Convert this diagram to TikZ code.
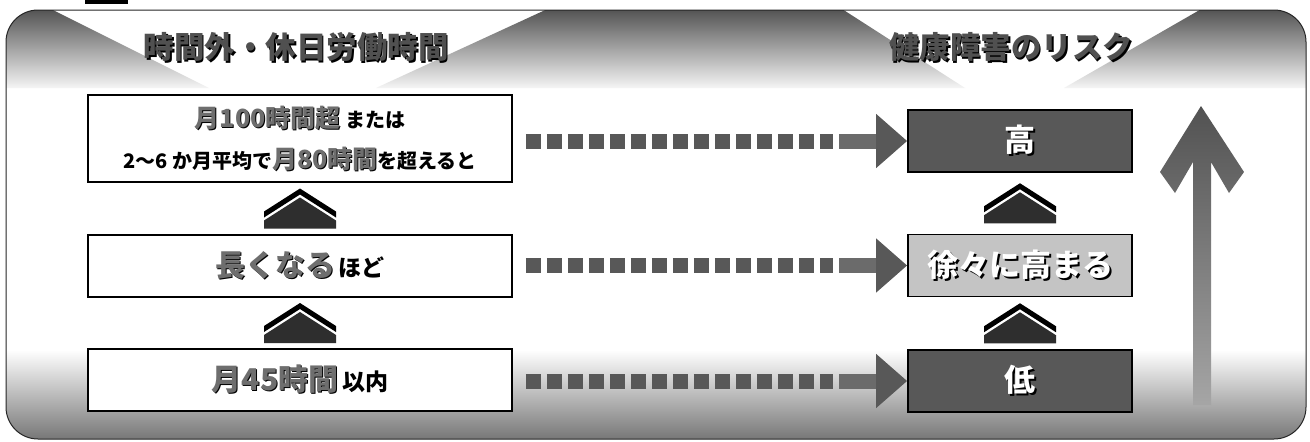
\documentclass[tikz,border=0pt]{standalone}
\usepackage{fontspec}
\newfontfamily\jp{Noto Sans CJK JP}
\usetikzlibrary{arrows.meta,calc}
\definecolor{dk}{HTML}{585858}
\definecolor{lt}{HTML}{C4C4C4}
\definecolor{stg}{HTML}{6E6E6E}
\definecolor{tg}{HTML}{505050}
\newcommand\shtext[3]{\makebox[0pt][l]{\kern#1\raisebox{-#1}{\color{black}#3}}{\color{#2}#3}}
\begin{document}
\begin{tikzpicture}[x=1pt,y=-1pt,
  lbox/.style={draw=black, line width=1.6pt, fill=white, minimum width=424pt, inner sep=0pt,
    font=\jp\bfseries\fontsize{20}{41}\selectfont, align=center},
  rbox/.style={draw=black, line width=1.6pt, minimum width=224pt, minimum height=62pt, inner sep=0pt,
    font=\jp\bfseries\fontsize{31}{31}\selectfont},
  ttl/.style={font=\jp\bfseries\fontsize{30.5}{30.5}\selectfont, inner sep=0pt},
  sq/.style={draw=dk, line width=15pt, dash pattern=on 15pt off 6pt},
  bar/.style={draw=black!58, line width=15pt, -{Triangle[length=31pt,width=52pt,color=dk]}},
  chev/.pic={
    \fill[black] (-36,23) -- (0,0) -- (36,23) -- (36,29) -- (0,6) -- (-36,29) -- cycle;
    \fill[black!82] (-36,40) -- (-36,32) -- (0,9) -- (36,32) -- (36,40) -- cycle;
  }]
\useasboundingbox (0,0) rectangle (1310,442);
% background band
\begin{scope}
  \clip[rounded corners=32pt] (6,10) rectangle (1306,439);
  \fill[white] (0,0) rectangle (1310,442);
  \shade[top color=black!75, bottom color=black!4] (0,0) -- (33,0) -- (209,88) -- (0,88) -- cycle;
  \shade[top color=black!75, bottom color=black!4] (376,88) -- (567,0) -- (828,0) -- (965,88) -- cycle;
  \shade[top color=black!75, bottom color=black!4] (1064,88) -- (1217,0) -- (1310,0) -- (1310,88) -- cycle;
  \shade[top color=white, bottom color=black!55] (0,350) rectangle (1310,442);
\end{scope}
\draw[black!85, line width=1pt, rounded corners=32pt] (6,10) rectangle (1306,439);
\fill[black] (85,0) rectangle (128,4);
% titles
\node[ttl] (t1) at (296,48) {\shtext{1.6pt}{tg}{時間外・休日労働時間}};
\node[ttl] (t2) at (1011,48) {\shtext{1.6pt}{tg}{健康障害のリスク}};
% left boxes
\node[lbox, minimum height=87pt] (b1) at (300,138.5)
  {{\fontsize{25}{25}\selectfont\shtext{1pt}{stg}{月100時間超}} または\\
   2〜6 か月平均で{\fontsize{25}{25}\selectfont\shtext{1pt}{stg}{月80時間}}を超えると};
\node[lbox, minimum height=62pt] (b2) at (300,266)
  {{\fontsize{30}{30}\selectfont\shtext{1pt}{stg}{長くなる}}\kern3pt{\fontsize{23}{23}\selectfont ほど}};
\node[lbox, minimum height=62pt] (b3) at (300,380)
  {{\fontsize{30}{30}\selectfont\shtext{1pt}{stg}{月45時間}}\kern4pt{\fontsize{23}{23}\selectfont 以内}};
% right boxes
\node[rbox, fill=dk] (r1) at (1020,141) {\shtext{2pt}{white}{高}};
\node[rbox, fill=lt] (r2) at (1020,265.5) {\shtext{2pt}{white}{徐々に高まる}};
\node[rbox, fill=dk] (r3) at (1020,381) {\shtext{2pt}{white}{低}};
% chevrons
\path (b1.south) -- (b2.north) coordinate[pos=0.5] (mb1);
\path (b2.south) -- (b3.north) coordinate[pos=0.5] (mb2);
\path (r1.south) -- (r2.north) coordinate[pos=0.5] (mr1);
\path (r2.south) -- (r3.north) coordinate[pos=0.5] (mr2);
\pic at ($(mb1)+(0,-20)$) {chev};
\pic at ($(mb2)+(0,-20)$) {chev};
\pic at ($(mr1)+(0,-20)$) {chev};
\pic at ($(mr2)+(0,-20)$) {chev};
% dashed arrows
\foreach \b/\r in {b1/r1, b2/r2, b3/r3}{
  \draw[sq] ($(\b.east|-\r.west)+(13,0)$) -- ($(\r.west)+(-74,0)$);
  \draw[bar] ($(\r.west)+(-68,0)$) -- (\r.west);
}
% big up arrow
\coordinate (ua) at (1201,106);
\shade[top color=black!68, bottom color=black!35]
  (ua) -- ++(43,66) -- ++(-15,21) -- ++(-18,-31) -- ++(0,243) -- ++(-18,0) -- ++(0,-243)
  -- ++(-18,31) -- ++(-15,-21) -- cycle;
\end{tikzpicture}
\end{document}
